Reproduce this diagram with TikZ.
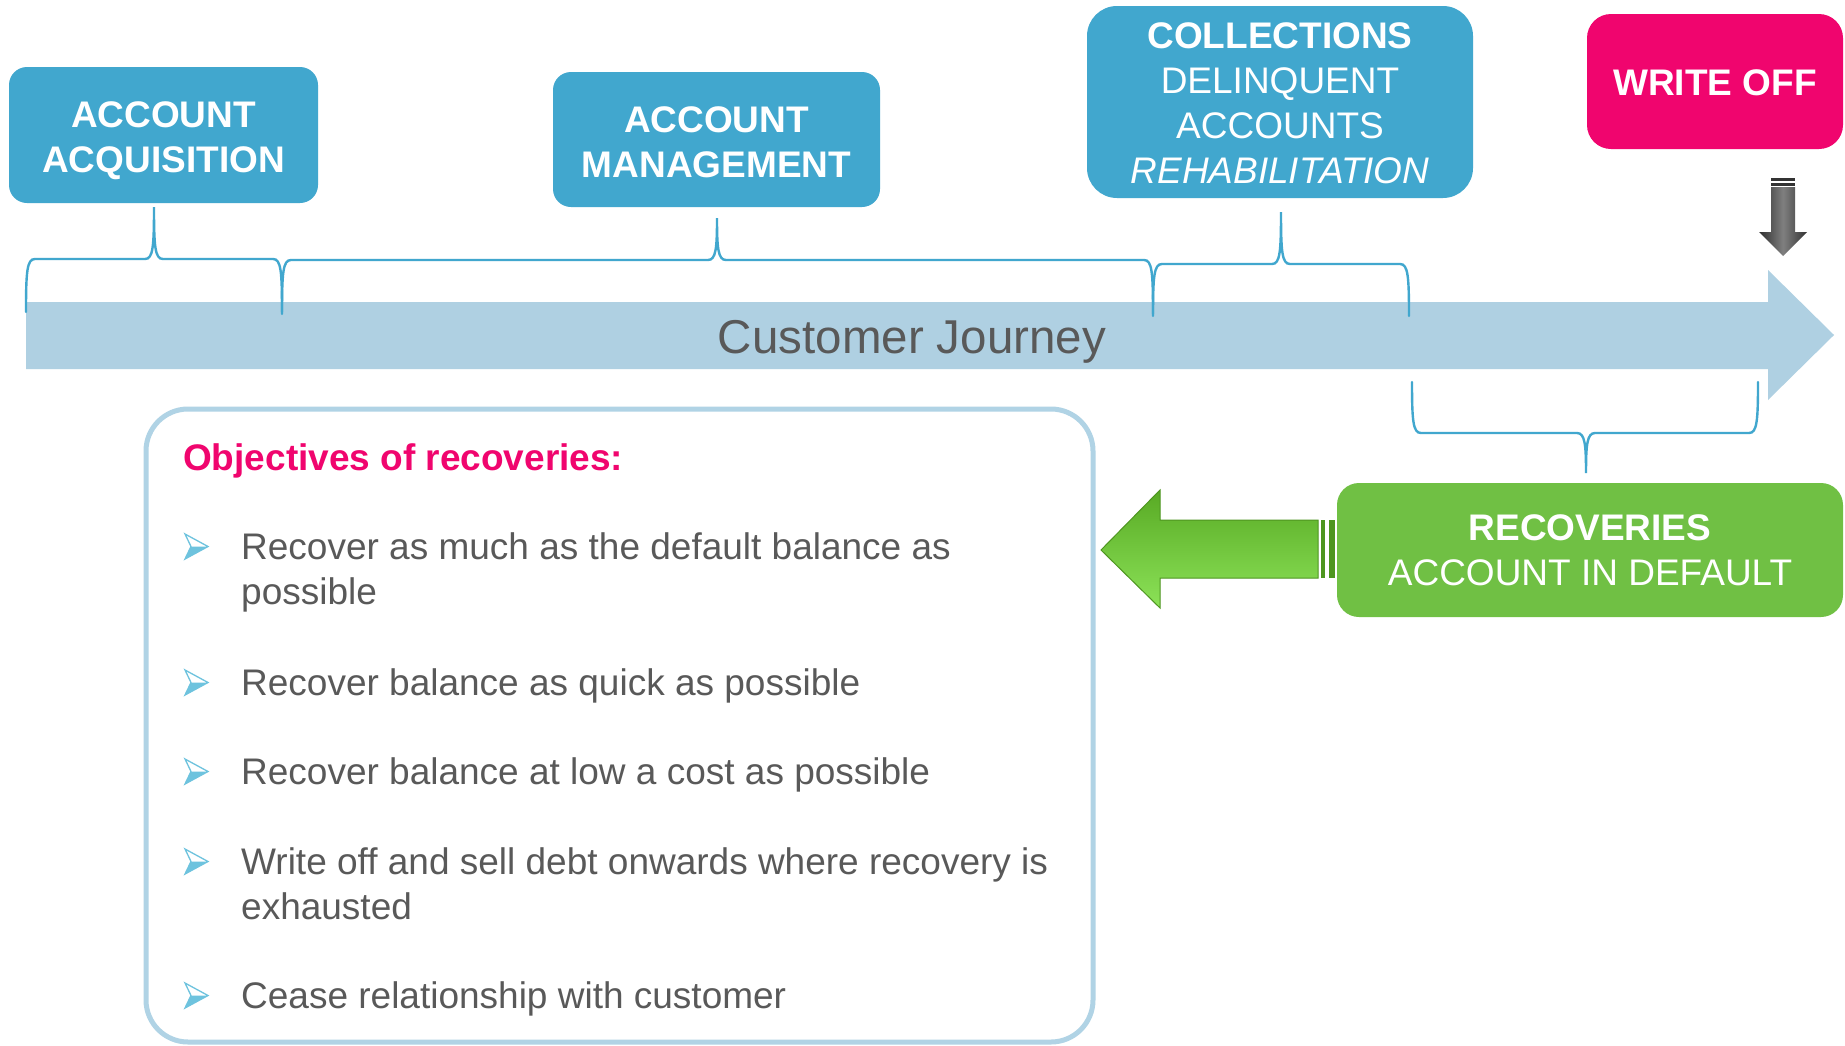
\documentclass[tikz,border=0pt]{standalone}
\usepackage{fontspec}
\setmainfont{Liberation Sans}
\definecolor{boxblue}{RGB}{65,167,206}
\definecolor{bandblue}{RGB}{175,208,226}
\definecolor{pinkc}{RGB}{240,5,110}
\definecolor{greenc}{RGB}{112,192,68}
\definecolor{txtgray}{RGB}{89,89,89}
\definecolor{bordblue}{RGB}{176,211,229}
\definecolor{bulblue}{RGB}{110,195,222}
\definecolor{bracec}{RGB}{65,167,206}
\definecolor{garrowdark}{RGB}{78,150,32}
\definecolor{garrowtop}{RGB}{88,170,36}
\definecolor{garrowmid}{RGB}{102,198,44}
\definecolor{garrowlight}{RGB}{140,226,88}
\newcommand{\bracepath}[7]{%
  \draw[bracestyle] (#1,#4) .. controls (#1,{#5+(#7)}) and ({#1+1},#5) .. ({#1+9},#5)
    -- ({#3-9},#5) .. controls ({#3-1},#5) and (#3,{#5-(#7)}) .. (#3,#6)
    .. controls (#3,{#5-(#7)}) and ({#3+1},#5) .. ({#3+9},#5)
    -- ({#2-9},#5) .. controls ({#2-1},#5) and (#2,{#5+(#7)}) .. (#2,#4);}
\begin{document}
\begin{tikzpicture}[x=1pt,y=-1pt,
  every node/.style={font=\fontsize{37}{45}\selectfont},
  bluebox/.style={fill=boxblue, text=white, rounded corners=18pt, align=center, inner sep=0pt},
  bracestyle/.style={draw=bracec, line width=2.4pt, line cap=round},
  bultext/.style={anchor=base west, inner sep=0pt, text=txtgray},
  bulpic/.pic={
    \fill[bulblue] (0,0) -- (-23,12.5) -- (-17,0) -- cycle;
    \draw[bulblue, line width=1.3pt, line join=miter] (-23,-12.5) -- (0,0) -- (-23,12.5) -- (-17,0) -- cycle;
  }]
\useasboundingbox[fill=white] (0,0) rectangle (1845,1045);

% top boxes
\node[bluebox, minimum width=309pt, minimum height=136pt] (acq) at (163.5,135) {\rule{0pt}{37pt}\bfseries ACCOUNT\\\bfseries ACQUISITION};
\node[bluebox, minimum width=327pt, minimum height=135pt] (mgmt) at (716.5,139.5) {\rule{0pt}{31pt}\bfseries ACCOUNT\\\bfseries MANAGEMENT};
\node[bluebox, rounded corners=30pt, minimum width=386pt, minimum height=192pt] (coll) at (1280,102) {\rule{0pt}{29pt}\bfseries COLLECTIONS\\DELINQUENT\\ACCOUNTS\\\itshape REHABILITATION};
\node[fill=pinkc, text=white, rounded corners=24pt, minimum width=256pt, minimum height=135pt, inner sep=0pt] (wo) at (1715,81.5) {\rule{0pt}{28pt}\bfseries WRITE OFF};

% down arrow under write off
\fill[black!80] (1771,178) rectangle (1795,181);
\fill[black!80] (1771,183) rectangle (1795,186);
\shade[left color=black!82, right color=black!80, middle color=black!50]
  (1771,187) -- (1795,187) -- (1795,232) -- (1807,232) -- (1783,256) -- (1759,232) -- (1771,232) -- cycle;

% customer journey band
\fill[bandblue] (26,302) -- (1768,302) -- (1768,270) -- (1834,335) -- (1768,400) -- (1768,369) -- (26,369) -- cycle;
\node[anchor=base, text=txtgray, font=\fontsize{47.5}{56}\selectfont, inner sep=0pt] (cj) at (912,353) {Customer Journey};

% braces
\bracepath{26}{282}{154}{312}{259}{207}{12}
\bracepath{282}{1153}{717}{314}{260}{218}{12}
\bracepath{1153}{1409}{1281}{316}{264}{212}{12}
\bracepath{1412}{1758}{1586}{382}{433}{473}{-12}

% recoveries box and green arrow
\node[fill=greenc, text=white, rounded corners=22pt, minimum width=506pt, minimum height=134pt, inner sep=0pt, align=center] (rec) at (1590,550) {\bfseries RECOVERIES\\ACCOUNT IN DEFAULT};
\fill[garrowdark] (1321,520) rectangle (1325,578);
\fill[garrowdark] (1329,520) rectangle (1335,578);
\shade[top color=garrowtop, middle color=garrowmid, bottom color=garrowlight]
  (1101,550) -- (1160,490) -- (1160,520) -- (1318,520) -- (1318,578) -- (1160,578) -- (1160,608) -- cycle;
\draw[garrowdark, line width=1pt, line join=miter]
  (1101,550) -- (1160,490) -- (1160,520) -- (1318,520) -- (1318,578) -- (1160,578) -- (1160,608) -- cycle;

% objectives box
\draw[bordblue, line width=5pt, rounded corners=42pt] (146,409) rectangle (1093,1042);
\node[anchor=base west, inner sep=0pt, text=pinkc] (obj) at (183,470) {\bfseries Objectives of recoveries:};

\pic at (208,546.5) {bulpic};
\node[bultext] (b1a) at (241,559) {Recover as much as the default balance as};
\node[bultext] (b1b) at (241,604) {possible};
\pic at (208,682.5) {bulpic};
\node[bultext] (b2) at (241,695) {Recover balance as quick as possible};
\pic at (208,771.5) {bulpic};
\node[bultext] (b3) at (241,784) {Recover balance at low a cost as possible};
\pic at (208,861.5) {bulpic};
\node[bultext] (b4a) at (241,874) {Write off and sell debt onwards where recovery is};
\node[bultext] (b4b) at (241,919) {exhausted};
\pic at (208,995.5) {bulpic};
\node[bultext] (b5) at (241,1008) {Cease relationship with customer};
\end{tikzpicture}
\end{document}
